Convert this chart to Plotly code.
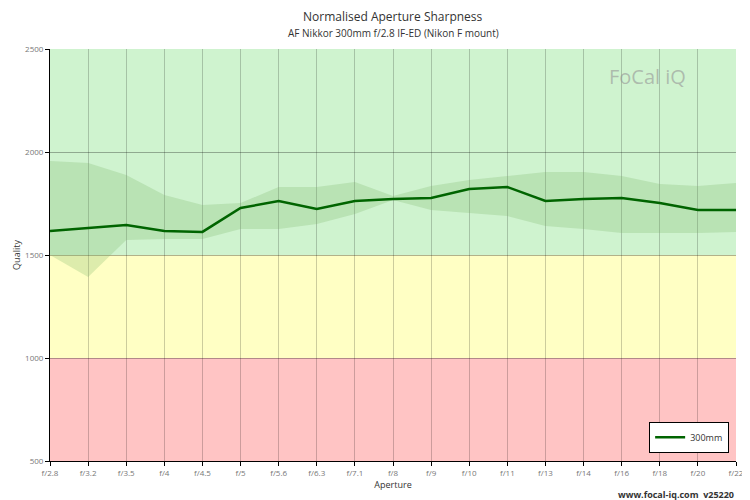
import plotly.graph_objects as go

apertures = ["f/2.8", "f/3.2", "f/3.5", "f/4", "f/4.5", "f/5", "f/5.6", "f/6.3", "f/7.1", "f/8",
             "f/9", "f/10", "f/11", "f/13", "f/14", "f/16", "f/18", "f/20", "f/22"]
quality = [1617, 1631, 1646, 1617, 1612, 1728, 1762, 1723, 1762, 1772,
           1777, 1820, 1830, 1762, 1772, 1777, 1752, 1718, 1718]
upper = [1956, 1947, 1888, 1791, 1743, 1752, 1830, 1830, 1854, 1786,
         1835, 1864, 1883, 1903, 1903, 1883, 1845, 1835, 1850]
lower = [1500, 1393, 1573, 1578, 1578, 1626, 1626, 1650, 1699, 1767,
         1718, 1704, 1689, 1641, 1626, 1607, 1607, 1607, 1612]
zones = [(500, 1000, "#ffc4c4"), (1000, 1500, "#ffffc4"), (1500, 2500, "#cff3cf")]

xs = list(range(len(apertures)))
fig = go.Figure()

for lo, hi, col in zones:
    fig.add_shape(type="rect", xref="x", yref="y", x0=0, x1=len(xs) - 1, y0=lo, y1=hi,
                  fillcolor=col, line_width=0, layer="below")

fig.add_trace(go.Scatter(x=xs, y=upper, mode="lines", line=dict(width=0),
                         showlegend=False, hoverinfo="skip"))
fig.add_trace(go.Scatter(x=xs, y=lower, mode="lines", line=dict(width=0), fill="tonexty",
                         fillcolor="rgba(120,180,100,0.25)", showlegend=False, hoverinfo="skip"))
fig.add_trace(go.Scatter(x=xs, y=quality, mode="lines", name="300mm",
                         line=dict(color="#006400", width=2.5)))

# page body has an 8px margin, so the figure is sized to fit the 750x500 window
fig.update_layout(
    width=742, height=492,
    margin=dict(l=42, r=14, t=41, b=39, autoexpand=False),
    paper_bgcolor="white", plot_bgcolor="white",
    font=dict(family="Open Sans", size=9, color="#333"),
    legend=dict(x=0.99, y=0.02, xanchor="right", yanchor="bottom", bgcolor="white",
                bordercolor="black", borderwidth=1, font=dict(size=9)),
    annotations=[
        dict(text="Normalised Aperture Sharpness", xref="paper", yref="paper", x=0.5, y=1.0,
             yshift=33, yanchor="middle", showarrow=False, font=dict(size=12, color="#333")),
        dict(text="AF Nikkor 300mm f/2.8 IF-ED (Nikon F mount)", xref="paper", yref="paper",
             x=0.5, y=1.0, yshift=16, yanchor="middle", showarrow=False,
             font=dict(size=10, color="#333")),
        dict(text="FoCal iQ", xref="paper", yref="paper", x=0.93, y=0.97, showarrow=False,
             font=dict(size=20, color="rgba(150,150,150,0.6)")),
        dict(text="<b>www.focal-iq.com  v25220</b>", xref="paper", yref="paper", x=1.0, y=0.0,
             yshift=-33, xanchor="right", yanchor="middle", showarrow=False,
             font=dict(size=9, color="#333")),
    ],
)
fig.update_xaxes(range=[0, len(xs) - 1], tickvals=xs, ticktext=apertures, showgrid=True,
                 gridcolor="rgba(0,0,0,0.2)", ticks="outside", ticklen=4, tickcolor="black",
                 showline=True, linecolor="black", automargin=False,
                 title=dict(text="Aperture", standoff=2, font=dict(size=9)),
                 tickfont=dict(size=8, color="#777"), zeroline=False)
fig.update_yaxes(range=[500, 2500], tickvals=[500, 1000, 1500, 2000, 2500], showgrid=True,
                 gridcolor="rgba(0,0,0,0.3)", ticks="outside", ticklen=4, tickcolor="black",
                 showline=True, linecolor="black", automargin=False,
                 title=dict(text="Quality", standoff=2, font=dict(size=9)),
                 tickfont=dict(size=8, color="#777"), zeroline=False)

fig.write_html("out.html")
